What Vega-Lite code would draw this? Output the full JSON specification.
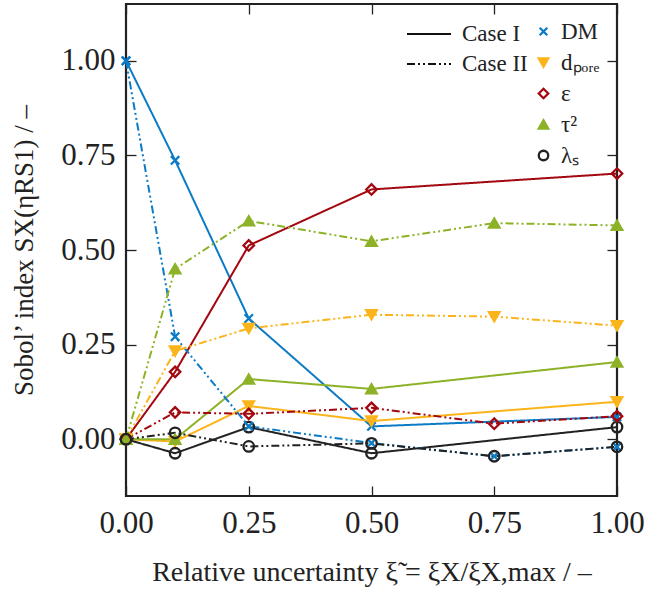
{
  "$schema": "https://vega.github.io/schema/vega-lite/v6.json",
  "autosize": {"type": "none"},
  "padding": {"left": 126, "top": 4, "right": 28, "bottom": 107},
  "width": 491,
  "height": 492,
  "config": {
    "font": "Liberation Serif",
    "style": {"guide-label": {"font": "Liberation Serif"}, "guide-title": {"font": "Liberation Serif"}},
    "view": {"stroke": "#222222", "strokeWidth": 2.2},
    "axis": {"grid": false, "domain": false, "tickColor": "#222222", "tickWidth": 1.3, "labelColor": "#222222", "titleColor": "#222222", "labelFont": "Liberation Serif", "titleFont": "Liberation Serif", "titleFontWeight": "normal"},
    "legend": {"labelFont": "Liberation Serif", "labelColor": "#222222"}
  },
  "data": {
    "values": [
      {"x": 0, "v": 1.0, "var": "DM", "case": "Case I"},
      {"x": 0.1, "v": 0.737, "var": "DM", "case": "Case I"},
      {"x": 0.25, "v": 0.319, "var": "DM", "case": "Case I"},
      {"x": 0.5, "v": 0.034, "var": "DM", "case": "Case I"},
      {"x": 1.0, "v": 0.059, "var": "DM", "case": "Case I"},
      {"x": 0, "v": 0.0, "var": "dₚₒᵣₑ", "case": "Case I"},
      {"x": 0.1, "v": -0.006, "var": "dₚₒᵣₑ", "case": "Case I"},
      {"x": 0.25, "v": 0.088, "var": "dₚₒᵣₑ", "case": "Case I"},
      {"x": 0.5, "v": 0.048, "var": "dₚₒᵣₑ", "case": "Case I"},
      {"x": 1.0, "v": 0.099, "var": "dₚₒᵣₑ", "case": "Case I"},
      {"x": 0, "v": 0.0, "var": "ε", "case": "Case I"},
      {"x": 0.1, "v": 0.178, "var": "ε", "case": "Case I"},
      {"x": 0.25, "v": 0.512, "var": "ε", "case": "Case I"},
      {"x": 0.5, "v": 0.66, "var": "ε", "case": "Case I"},
      {"x": 1.0, "v": 0.702, "var": "ε", "case": "Case I"},
      {"x": 0, "v": 0.0, "var": "τ²", "case": "Case I"},
      {"x": 0.1, "v": 0.0, "var": "τ²", "case": "Case I"},
      {"x": 0.25, "v": 0.159, "var": "τ²", "case": "Case I"},
      {"x": 0.5, "v": 0.133, "var": "τ²", "case": "Case I"},
      {"x": 1.0, "v": 0.204, "var": "τ²", "case": "Case I"},
      {"x": 0, "v": 0.0, "var": "λₛ", "case": "Case I"},
      {"x": 0.1, "v": -0.037, "var": "λₛ", "case": "Case I"},
      {"x": 0.25, "v": 0.032, "var": "λₛ", "case": "Case I"},
      {"x": 0.5, "v": -0.037, "var": "λₛ", "case": "Case I"},
      {"x": 1.0, "v": 0.032, "var": "λₛ", "case": "Case I"},
      {"x": 0, "v": 1.0, "var": "DM", "case": "Case II"},
      {"x": 0.1, "v": 0.271, "var": "DM", "case": "Case II"},
      {"x": 0.25, "v": 0.034, "var": "DM", "case": "Case II"},
      {"x": 0.5, "v": -0.01, "var": "DM", "case": "Case II"},
      {"x": 0.75, "v": -0.045, "var": "DM", "case": "Case II"},
      {"x": 1.0, "v": -0.02, "var": "DM", "case": "Case II"},
      {"x": 0, "v": 0.0, "var": "dₚₒᵣₑ", "case": "Case II"},
      {"x": 0.1, "v": 0.233, "var": "dₚₒᵣₑ", "case": "Case II"},
      {"x": 0.25, "v": 0.293, "var": "dₚₒᵣₑ", "case": "Case II"},
      {"x": 0.5, "v": 0.329, "var": "dₚₒᵣₑ", "case": "Case II"},
      {"x": 0.75, "v": 0.324, "var": "dₚₒᵣₑ", "case": "Case II"},
      {"x": 1.0, "v": 0.30, "var": "dₚₒᵣₑ", "case": "Case II"},
      {"x": 0, "v": 0.0, "var": "ε", "case": "Case II"},
      {"x": 0.1, "v": 0.071, "var": "ε", "case": "Case II"},
      {"x": 0.25, "v": 0.067, "var": "ε", "case": "Case II"},
      {"x": 0.5, "v": 0.083, "var": "ε", "case": "Case II"},
      {"x": 0.75, "v": 0.041, "var": "ε", "case": "Case II"},
      {"x": 1.0, "v": 0.061, "var": "ε", "case": "Case II"},
      {"x": 0, "v": 0.0, "var": "τ²", "case": "Case II"},
      {"x": 0.1, "v": 0.45, "var": "τ²", "case": "Case II"},
      {"x": 0.25, "v": 0.577, "var": "τ²", "case": "Case II"},
      {"x": 0.5, "v": 0.523, "var": "τ²", "case": "Case II"},
      {"x": 0.75, "v": 0.571, "var": "τ²", "case": "Case II"},
      {"x": 1.0, "v": 0.565, "var": "τ²", "case": "Case II"},
      {"x": 0, "v": 0.0, "var": "λₛ", "case": "Case II"},
      {"x": 0.1, "v": 0.017, "var": "λₛ", "case": "Case II"},
      {"x": 0.25, "v": -0.019, "var": "λₛ", "case": "Case II"},
      {"x": 0.5, "v": -0.011, "var": "λₛ", "case": "Case II"},
      {"x": 0.75, "v": -0.045, "var": "λₛ", "case": "Case II"},
      {"x": 1.0, "v": -0.02, "var": "λₛ", "case": "Case II"}
    ]
  },
  "resolve": {"axis": {"x": "independent", "y": "independent"}},
  "layer": [
    {
      "mark": {"type": "line", "strokeWidth": 2},
      "encoding": {
        "x": {"field": "x", "type": "quantitative", "scale": {"domain": [0, 1], "nice": false, "zero": false},
          "axis": {"orient": "bottom", "values": [0, 0.25, 0.5, 0.75, 1], "format": ".2f", "tickSize": -10, "labelPadding": 22, "labelFontSize": 31, "labelFlush": false, "title": "Relative uncertainty ξ̃ = ξX/ξX,max / –", "titleFontSize": 28, "titlePadding": 20}},
        "y": {"field": "v", "type": "quantitative", "scale": {"domain": [-0.15, 1.15], "nice": false, "zero": false},
          "axis": {"orient": "left", "values": [0, 0.25, 0.5, 0.75, 1], "format": ".2f", "tickSize": -10, "labelPadding": 21, "labelFontSize": 31, "title": "Sobol’ index SX(ηRS1) / –", "titleFontSize": 27, "titlePadding": 22}},
        "color": {"field": "var", "type": "nominal", "legend": null,
          "scale": {"range": ["#0c7bc6", "#fbb41a", "#a3070f", "#222222", "#8db228"]}},
        "strokeDash": {"field": "case", "type": "nominal",
          "scale": {"domain": ["Case I", "Case II"], "range": [[1, 0], [8, 3, 2, 3, 2, 3]]},
          "legend": {"title": null, "orient": "none", "legendX": 291, "legendY": 18, "padding": 0, "symbolType": "M-2,0L2,0", "symbolStrokeColor": "#111111", "symbolFillColor": "transparent", "symbolStrokeWidth": 2, "symbolSize": 484, "labelFont": "Liberation Serif", "labelFontSize": 23, "rowPadding": 6, "labelOffset": 21}}
      }
    },
    {
      "mark": {"type": "point", "strokeWidth": 2.3, "size": 110, "opacity": 1},
      "encoding": {
        "x": {"field": "x", "type": "quantitative",
          "axis": {"orient": "top", "values": [0, 0.25, 0.5, 0.75, 1], "labels": false, "tickSize": -10, "title": null}},
        "y": {"field": "v", "type": "quantitative",
          "axis": {"orient": "right", "values": [0, 0.25, 0.5, 0.75, 1], "labels": false, "tickSize": -10, "title": null}},
        "stroke": {"field": "var", "type": "nominal",
          "scale": {"domain": ["DM", "dₚₒᵣₑ", "ε", "τ²", "λₛ"], "range": ["#0c7bc6", "#fbb41a", "#a3070f", "#8db228", "#222222"]},
          "legend": {"title": null, "orient": "none", "legendX": 406, "legendY": 16, "padding": 0, "labelFont": "Liberation Serif", "labelFontSize": 23, "rowPadding": 7, "symbolStrokeWidth": 2.3, "symbolSize": 90, "labelOffset": 6}},
        "fill": {"field": "var", "type": "nominal",
          "scale": {"domain": ["DM", "dₚₒᵣₑ", "ε", "τ²", "λₛ"], "range": ["transparent", "#fbb41a", "transparent", "#8db228", "transparent"]},
          "legend": {"title": null, "orient": "none", "legendX": 406, "legendY": 16, "padding": 0, "labelFont": "Liberation Serif", "labelFontSize": 23, "rowPadding": 7, "symbolStrokeWidth": 2.3, "symbolSize": 90, "labelOffset": 6}},
        "shape": {"field": "var", "type": "nominal",
          "scale": {"domain": ["DM", "dₚₒᵣₑ", "ε", "τ²", "λₛ"], "range": ["M-0.8,-0.8L0.8,0.8M0.8,-0.8L-0.8,0.8", "triangle-down", "diamond", "triangle-up", "circle"]},
          "legend": {"title": null, "orient": "none", "legendX": 406, "legendY": 16, "padding": 0, "labelFont": "Liberation Serif", "labelFontSize": 23, "rowPadding": 7, "symbolStrokeWidth": 2.3, "symbolSize": 90, "labelOffset": 6}}
      }
    }
  ]
}
